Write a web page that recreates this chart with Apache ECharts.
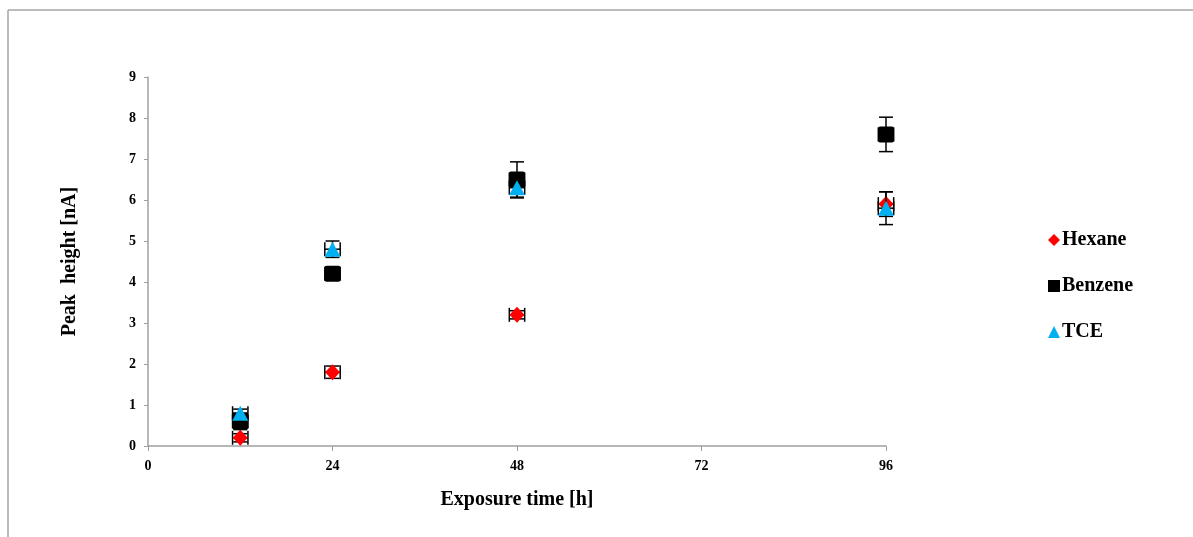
<!DOCTYPE html>
<html>
<head>
<meta charset="utf-8">
<script src="https://cdn.jsdelivr.net/npm/echarts@6/dist/echarts.min.js"></script>
<style>html,body{margin:0;padding:0;background:#fff;}#c{width:1193px;height:537px;}</style>
</head>
<body>
<div id="c"></div>
<script>
const seriesNames = ['Hexane', 'Benzene', 'TCE'];
const times = [12, 24, 48, 96];
const hexane = [0.2, 1.8, 3.2, 5.9];
const benzene = [0.6, 4.2, 6.5, 7.6];
const tce = [0.8, 4.8, 6.3, 5.8];
const hexaneErr = [0.1, 0.15, 0.1, 0.3];
const benzeneErr = [0.2, 0.1, 0.43, 0.42];
const tceErr = [0.1, 0.2, 0.25, 0.4];
const timeErr = [1, 1, 1, 1];
const xTicks = [0, 24, 48, 72, 96];
const yTicks = [0, 1, 2, 3, 4, 5, 6, 7, 8, 9];

const colors = ['#ff0000', '#000000', '#00b0f0'];
const symbols = ['diamond', 'path://M2,0 H14 Q16,0 16,2 V14 Q16,16 14,16 H2 Q0,16 0,14 V2 Q0,0 2,0 Z', 'triangle'];
const legendIcons = ['diamond', 'rect', 'triangle'];
const sizes = [[15, 16], [16, 16], [16, 15]];
const values = [hexane, benzene, tce];
const errs = [hexaneErr, benzeneErr, tceErr];

const font = '"Liberation Serif", "Times New Roman", serif';

function errData(vals, e) {
  return times.map((t, i) => [t, vals[i], e[i], timeErr[i]]);
}
function renderErr(params, api) {
  const x = api.value(0), y = api.value(1), ey = api.value(2), ex = api.value(3);
  const top = api.coord([x, y + ey]);
  const bot = api.coord([x, y - ey]);
  const lft = api.coord([x - ex, y]);
  const rgt = api.coord([x + ex, y]);
  const c = api.coord([x, y]);
  const cap = 7;
  const style = { stroke: '#000', lineWidth: 1.5 };
  const lines = [
    [top[0], top[1], bot[0], bot[1]],
    [top[0] - cap, top[1], top[0] + cap, top[1]],
    [bot[0] - cap, bot[1], bot[0] + cap, bot[1]],
    [lft[0], c[1], rgt[0], c[1]],
    [lft[0], c[1] - cap, lft[0], c[1] + cap],
    [rgt[0], c[1] - cap, rgt[0], c[1] + cap]
  ];
  return {
    type: 'group',
    children: lines.map(l => ({ type: 'line', shape: { x1: l[0], y1: l[1], x2: l[2], y2: l[3] }, style: style }))
  };
}

const series = [];
seriesNames.forEach((name, k) => {
  series.push({
    type: 'custom', name: name + ' err', renderItem: renderErr,
    data: errData(values[k], errs[k]), encode: { x: 0, y: 1 }, z: 2 + k * 2, silent: true
  });
  series.push({
    type: 'scatter', name: name, symbol: symbols[k], symbolSize: sizes[k],
    itemStyle: { color: colors[k], opacity: 1 },
    data: times.map((t, i) => [t, values[k][i]]), z: 3 + k * 2
  });
});

const chart = echarts.init(document.getElementById('c'), null, { renderer: 'canvas' });
chart.setOption({
  animation: false,
  backgroundColor: '#fff',
  grid: { left: 148, right: 307, top: 77, bottom: 91 },
  xAxis: {
    type: 'value', min: 0, max: 96, interval: 24,
    name: 'Exposure time [h]', nameLocation: 'middle', nameGap: 44,
    nameTextStyle: { fontFamily: font, fontWeight: 'bold', fontSize: 20, color: '#000' },
    axisLine: { show: true, lineStyle: { color: '#a0a0a0', width: 1.5 } },
    axisTick: { show: true, length: 5, lineStyle: { color: '#a0a0a0' } },
    axisLabel: { fontFamily: font, fontWeight: 'bold', fontSize: 14, color: '#000', margin: 13,
      formatter: v => xTicks.includes(v) ? String(v) : '' },
    splitLine: { show: false }
  },
  yAxis: {
    type: 'value', min: 0, max: 9, interval: 1,
    name: 'Peak  height [nA]', nameLocation: 'middle', nameGap: 68,
    nameTextStyle: { fontFamily: font, fontWeight: 'bold', fontSize: 20, color: '#000' },
    axisLine: { show: true, lineStyle: { color: '#a0a0a0', width: 1.5 } },
    axisTick: { show: true, length: 4, lineStyle: { color: '#a0a0a0' } },
    axisLabel: { fontFamily: font, fontWeight: 'bold', fontSize: 14, color: '#000', margin: 12,
      formatter: v => yTicks.includes(v) ? String(v) : '' },
    splitLine: { show: false }
  },
  legend: {
    data: seriesNames.map((n, k) => ({ name: n, icon: legendIcons[k] })),
    orient: 'vertical', left: 1043, top: 225, itemGap: 26, itemWidth: 12, itemHeight: 12,
    textStyle: { fontFamily: font, fontWeight: 'bold', fontSize: 20, color: '#000', padding: [0, 0, 0, -3] },
    selectedMode: false
  },
  graphic: [
    { type: 'line', shape: { x1: 8, y1: 10, x2: 1193, y2: 10 }, style: { stroke: '#a6a6a6', lineWidth: 1.5 } },
    { type: 'line', shape: { x1: 8, y1: 10, x2: 8, y2: 537 }, style: { stroke: '#a6a6a6', lineWidth: 1.5 } }
  ],
  series: series
});
</script>
</body>
</html>
